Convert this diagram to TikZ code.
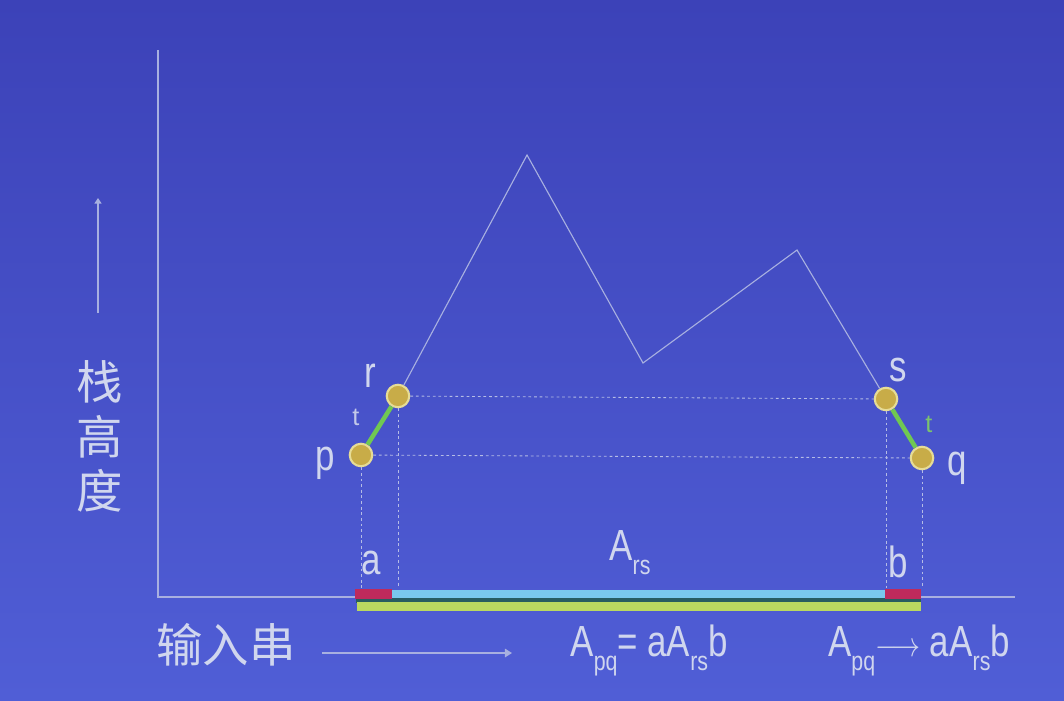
\documentclass[tikz,border=0pt]{standalone}
\usepackage{fontspec}
\setmainfont{Liberation Sans}
\newfontfamily\cjk{Noto Sans CJK SC}
\usetikzlibrary{positioning,arrows.meta}
\definecolor{slidetop}{RGB}{60,66,184}
\definecolor{slidebot}{RGB}{80,94,214}
\definecolor{chalk}{RGB}{208,214,238}
\definecolor{axisgray}{RGB}{168,176,224}
\definecolor{dotgold}{RGB}{200,172,72}
\definecolor{dotrim}{RGB}{230,220,150}
\definecolor{pushgreen}{RGB}{112,200,82}
\definecolor{barred}{RGB}{190,42,92}
\definecolor{barcyan}{RGB}{122,200,236}
\definecolor{barlime}{RGB}{186,216,96}
\definecolor{bardark}{RGB}{40,92,96}
\newcommand\lowsub[1]{\raisebox{-0.32em}{\fontsize{19}{19}\selectfont #1}}
\begin{document}
\begin{tikzpicture}[x=0.025cm,y=-0.025cm,
  lbl/.style={text=chalk,font=\fontsize{31}{31}\selectfont,inner sep=0pt,xscale=0.8,transform shape},
  hz/.style={text=chalk,font=\cjk\fontsize{33}{33}\selectfont,inner sep=0pt},
  pt/.style={circle,fill=dotgold,draw=dotrim,line width=1.5pt,minimum size=16pt,inner sep=0pt},
  trace/.style={draw=axisgray,line width=0.8pt},
  guide/.style={draw=axisgray!85,line width=0.6pt,dash pattern=on 2pt off 2pt},
  push/.style={draw=pushgreen,line width=3.2pt}]
\shade[top color=slidetop,bottom color=slidebot] (0,0) rectangle (1064,700);
\useasboundingbox (0,0) rectangle (1064,700);
% axes
\coordinate (O) at (158,597);
\coordinate (ytop) at (158,50);
\coordinate (xend) at (1015,597);
\draw[axisgray,line width=0.9pt] (ytop) -- (O) -- (xend);
% input bars
\fill[bardark] (356,596) rectangle (921,603);
\fill[barred] (355,589) rectangle (392,599);
\fill[barcyan] (392,590) rectangle (885,598);
\fill[barred] (885,589) rectangle (921,599);
\fill[barlime] (357,602) rectangle (921,611);
% stack trace
\node[pt] (p) at (361,455) {};
\node[pt] (r) at (398,396) {};
\node[pt] (s) at (886,399) {};
\node[pt] (q) at (922,458) {};
\coordinate (pk1) at (527,155);
\coordinate (vl) at (643,363);
\coordinate (pk2) at (797,250);
\draw[trace] (r) -- (pk1) -- (vl) -- (pk2) -- (s);
\draw[guide] (r) -- (s);
\draw[guide] (p) -- (q);
\foreach \v in {p,r,s,q} \draw[guide] (\v) -- (\v |- 0,588);
\draw[push] (p) -- (r);
\draw[push] (s) -- (q);
\node[text=axisgray!70,font=\fontsize{18}{18}\selectfont,inner sep=0pt] (tl) at (356,417) {t};
\node[text=pushgreen!80!axisgray,font=\fontsize{18}{18}\selectfont,inner sep=0pt] (tr) at (929,424) {t};
% labels
\node[lbl] (lr) at (370,376) {r};
\node[lbl] (lp) at (325,463) {p};
\node[lbl] (ls) at (898,370) {s};
\node[lbl] (lq) at (957,468) {q};
\node[lbl] (la) at (371,563) {a};
\node[lbl] (lb) at (898,562) {b};
\node[lbl] (lrs) at (630,553) {A\lowsub{rs}};
% stack height
\coordinate (hup) at (98,198);
\coordinate (hlow) at (98,313);
\draw[axisgray,line width=1pt,-{Triangle[width=5pt,length=4pt]}] (hlow) -- (hup);
\node[hz] (h1) at (100,382) {栈};
\node[hz] (h2) at (100,437) {高};
\node[hz] (h3) at (100,491) {度};
% input string
\node[hz] (inp) at (226,645) {输入串};
\coordinate (ia) at (322,653);
\coordinate (ib) at (512,653);
\draw[axisgray,line width=1pt,-{Triangle[width=6pt,length=5pt]}] (ia) -- (ib);
\node[lbl] (eq1) at (649,650) {A\lowsub{pq}= aA\lowsub{rs}b};
\node[lbl] (eq2) at (919,650) {A\lowsub{pq}$\longrightarrow$ aA\lowsub{rs}b};
\end{tikzpicture}
\end{document}
